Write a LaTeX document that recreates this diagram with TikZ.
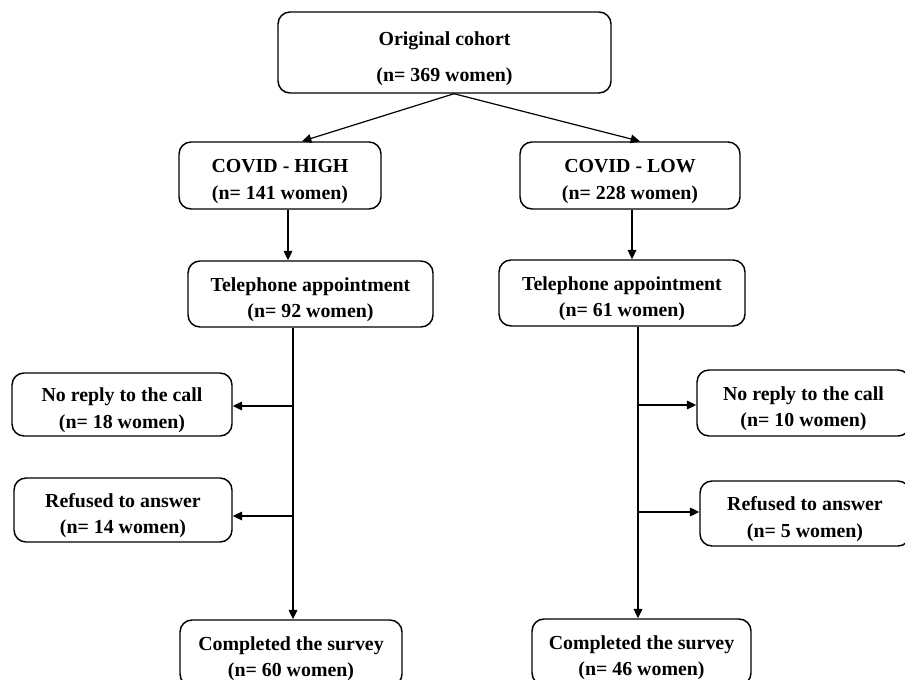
\documentclass[tikz,border=0pt]{standalone}
\usepackage{fontspec}
\setmainfont{Liberation Serif}
\usetikzlibrary{arrows.meta,calc}
\newcommand{\topstrut}{\rule{0pt}{19pt}}

\begin{document}
\begin{tikzpicture}[x=0.75pt,y=-0.75pt,
  box/.style={draw,line width=1.1pt,rounded corners=9pt,align=center,inner sep=0pt,
    font=\fontsize{14.9}{20}\selectfont\bfseries},
  arr/.style={line width=0.9pt,-{Triangle[length=7pt,width=6.5pt]}}]
  \useasboundingbox (0,0) rectangle (905,680);
  \clip (0,0) rectangle (905,680);
  %
  \node[box,minimum width=249.75pt,minimum height=60.75pt] (orig) at (444.5,52.5) {\topstrut Original cohort\\[7pt](n= 369 women)};
  \node[box,minimum width=151.5pt,minimum height=50.25pt] (high) at (280,175.5) {\topstrut COVID - HIGH\\(n= 141 women)};
  \node[box,minimum width=165pt,minimum height=50.25pt] (low) at (630,175.5) {\topstrut COVID - LOW\\(n= 228 women)};
  \node[box,minimum width=183.75pt,minimum height=49.5pt] (telL) at (310.5,294) {\topstrut Telephone appointment\\(n= 92 women)};
  \node[box,minimum width=184.5pt,minimum height=49.5pt] (telR) at (622,293) {\topstrut Telephone appointment\\(n= 61 women)};
  \node[box,minimum width=165pt,minimum height=47.25pt] (noL) at (122,404.5) {\topstrut No reply to the call\\(n= 18 women)};
  \node[box,minimum width=163.5pt,minimum height=48pt] (refL) at (123,510) {\topstrut Refused to answer\\(n= 14 women)};
  \node[box,minimum width=159.75pt,minimum height=49.5pt] (noR) at (803.5,403) {\topstrut No reply to the call\\(n= 10 women)};
  \node[box,minimum width=157.5pt,minimum height=48.75pt] (refR) at (805,513.5) {\topstrut Refused to answer\\(n= 5 women)};
  \node[box,minimum width=166.5pt,minimum height=49.5pt] (compL) at (291,653) {\topstrut Completed the survey\\(n= 60 women)};
  \node[box,minimum width=164.25pt,minimum height=49.5pt] (compR) at (641.5,652) {\topstrut Completed the survey\\(n= 46 women)};
  %
  \coordinate (split) at ($(orig.south)+(9.5,0)$);
  \coordinate (xh) at (288,0);
  \coordinate (xw) at (632,0);
  \coordinate (cl) at (293,0);
  \coordinate (cr) at (638,0);
  %
  \draw[arr] (split) -- ($(high.north)+(22,0)$);
  \draw[arr] (split) -- ($(low.north)+(10,0)$);
  \draw[arr] (high.south -| xh) -- (telL.north -| xh);
  \draw[arr] (low.south -| xw) -- (telR.north -| xw);
  % left branch
  \draw[arr] (telL.south -| cl) -- (compL.north -| cl);
  \draw[arr] ($(noL.east -| cl)+(0,1.5)$) -- ($(noL.east)+(0,1.5)$);
  \draw[arr] ($(refL.east -| cl)+(0,6)$) -- ($(refL.east)+(0,6)$);
  % right branch
  \draw[arr] (telR.south -| cr) -- (compR.north -| cr);
  \draw[arr] ($(noR.west -| cr)+(0,2)$) -- ($(noR.west)+(0,2)$);
  \draw[arr] ($(refR.west -| cr)+(0,-1.5)$) -- ($(refR.west)+(0,-1.5)$);
\end{tikzpicture}
\end{document}
